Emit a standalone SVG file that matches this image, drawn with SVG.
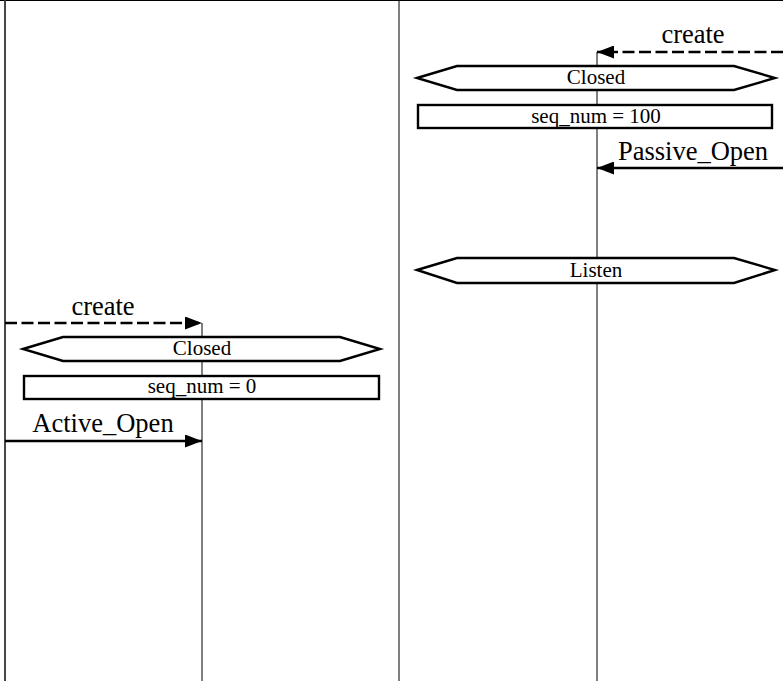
<svg xmlns="http://www.w3.org/2000/svg" width="783" height="681" viewBox="0 0 783 681">
<style>
.frame{stroke:#000;stroke-width:1;fill:none}
.life{stroke:#000;stroke-width:1;fill:none}
.state{fill:#fff;stroke:#000;stroke-width:2.4}
.msg{stroke:#000;stroke-width:2.4;fill:none}
.dash{stroke-dasharray:12 4.5}
.small{font-family:"Liberation Serif","Times New Roman",serif;font-size:21px;fill:#000;text-anchor:middle}
.big{font-family:"Liberation Serif","Times New Roman",serif;font-size:26.5px;fill:#000;text-anchor:middle}
</style>
<defs>
<marker id="ah" markerUnits="userSpaceOnUse" markerWidth="17" markerHeight="13" refX="17" refY="6.5" orient="auto">
<path d="M0,0 L17,6.5 L0,13 z" fill="#000"/>
</marker>
</defs>
<rect width="783" height="681" fill="#fff"/>
<g id="frame">
<line class="frame" x1="0" y1="0.5" x2="783" y2="0.5" stroke="#555"/>
<line x1="5" y1="0" x2="5" y2="681" stroke="#333" stroke-width="1.8"/>
<line class="frame" x1="399" y1="0" x2="399" y2="681"/>
</g>
<g id="lifelines">
<line class="life" x1="202" y1="323" x2="202" y2="681"/>
<line class="life" x1="597" y1="52" x2="597" y2="681"/>
</g>
<g id="connectors">
<line class="msg dash" x1="783" y1="52" x2="597" y2="52" marker-end="url(#ah)"/>
<text class="big" x="693" y="43">create</text>
<line class="msg" x1="783" y1="168" x2="597" y2="168" marker-end="url(#ah)"/>
<text class="big" x="693" y="160">Passive_Open</text>
<line class="msg dash" x1="5" y1="323" x2="202" y2="323" marker-end="url(#ah)"/>
<text class="big" x="103" y="315">create</text>
<line class="msg" x1="5" y1="441" x2="202" y2="441" marker-end="url(#ah)"/>
<text class="big" x="103" y="432">Active_Open</text>
</g>
<g id="server-closed">
<polygon class="state" points="417,78 457,66 734,66 775,78 734,90 457,90"/>
<text class="small" x="596" y="84">Closed</text>
</g>
<g id="server-seq">
<rect class="state" x="418" y="105" width="354" height="23"/>
<text class="small" x="596" y="123">seq_num = 100</text>
</g>
<g id="server-listen">
<polygon class="state" points="417,270 457,258 734,258 775,270 734,283 457,283"/>
<text class="small" x="596" y="277">Listen</text>
</g>
<g id="client-closed">
<polygon class="state" points="23,349 63,337 340,337 380,349 340,361 63,361"/>
<text class="small" x="202" y="355">Closed</text>
</g>
<g id="client-seq">
<rect class="state" x="24" y="376" width="355" height="23"/>
<text class="small" x="202" y="393">seq_num = 0</text>
</g>
</svg>
